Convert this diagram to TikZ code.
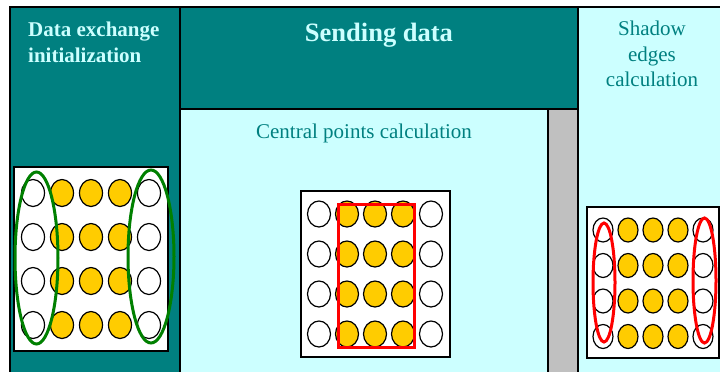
\documentclass[tikz,border=0pt]{standalone}
\usepackage{fontspec}
\setmainfont{Liberation Serif}
\usepackage{xcolor}
\usetikzlibrary{shapes.geometric}

\definecolor{panelteal}{HTML}{008080}
\definecolor{panelcyan}{HTML}{CCFFFF}
\definecolor{stripgray}{HTML}{C0C0C0}
\definecolor{dotyellow}{HTML}{FFCC00}
\definecolor{ringgreen}{HTML}{008000}

\begin{document}
\begin{tikzpicture}[x=1pt, y=-1pt,
    panel/.style={draw=black, line width=1.4pt},
    gridbox/.style={draw=black, fill=white, line width=1.3pt},
    dot/.style={draw=black, line width=1.2pt},
    ring/.style={line width=3pt}]
    \useasboundingbox (0,0) rectangle (720,372);
    \clip (0,0) rectangle (720,372);
    \fill[white] (0,0) rectangle (720,372);

    % panels
    \draw[panel, fill=panelteal] (10,7) rectangle (180,385);
    \draw[panel, fill=panelteal] (180,7) rectangle (578,109);
    \draw[panel, fill=panelcyan] (180,109) rectangle (548,385);
    \draw[panel, fill=stripgray] (548,109) rectangle (578,385);
    \draw[panel, fill=panelcyan] (578,7) rectangle (730,385);

    \node[anchor=north west, inner sep=0, align=left, text=panelcyan,
          font=\fontsize{21}{26}\selectfont\bfseries] (init) at (28,22)
          {Data exchange\\initialization};
    \node[anchor=north, inner sep=0, text=panelcyan,
          font=\fontsize{26.5}{30}\selectfont\bfseries] (send) at (379,23)
          {Sending data};
    \node[anchor=north, inner sep=0, text=panelteal,
          font=\fontsize{21}{25}\selectfont] (central) at (364,124)
          {Central points calculation};
    \node[anchor=north, inner sep=0, align=center, text=panelteal,
          font=\fontsize{21}{25.5}\selectfont] (shadow) at (652,21)
          {Shadow\\edges\\calculation};

    % left grid
    \draw[gridbox] (14,167) rectangle (168,351);
    \foreach \i in {0,...,4}
      \foreach \j in {0,...,3} {
        \ifnum\i=0 \def\c{white}\else\ifnum\i=4 \def\c{white}\else\def\c{dotyellow}\fi\fi
        \draw[dot, fill=\c] (33+29*\i,193+44*\j) ellipse [x radius=11.5pt, y radius=13.5pt];
      }
    \draw[ring, ringgreen] (36.5,258) ellipse [x radius=21.5pt, y radius=86pt];
    \draw[ring, ringgreen] (151,256.5) ellipse [x radius=23pt, y radius=86.5pt];

    % middle grid
    \draw[gridbox] (301,191) rectangle (450,357);
    \foreach \i in {0,...,4}
      \foreach \j in {0,...,3} {
        \ifnum\i=0 \def\c{white}\else\ifnum\i=4 \def\c{white}\else\def\c{dotyellow}\fi\fi
        \draw[dot, fill=\c] (319+28*\i,214+40*\j) ellipse [x radius=11.5pt, y radius=13pt];
      }
    \draw[ring, red] (338,204) rectangle (414,347);

    % right grid
    \draw[gridbox] (587,207) rectangle (719,358);
    \foreach \i in {0,...,4}
      \foreach \j in {0,...,3} {
        \ifnum\i=0 \def\c{white}\else\ifnum\i=4 \def\c{white}\else\def\c{dotyellow}\fi\fi
        \draw[dot, fill=\c] (603+25*\i,230+35.5*\j) ellipse [x radius=10pt, y radius=12pt];
      }
    \draw[ring, red] (604,282.5) ellipse [x radius=11pt, y radius=59.5pt];
    \draw[ring, red] (704.5,280.5) ellipse [x radius=11.5pt, y radius=62.5pt];
\end{tikzpicture}
\end{document}
